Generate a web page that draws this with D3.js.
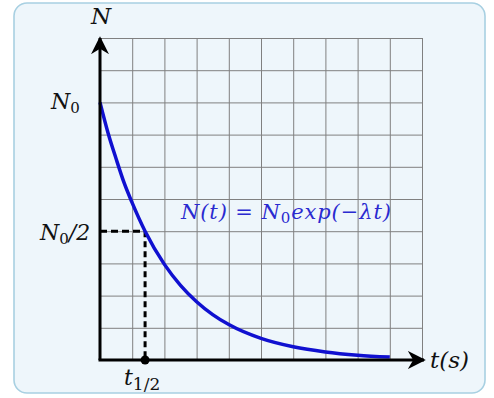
<!DOCTYPE html>
<html lang="en">
<head>
    <meta charset="UTF-8">
    <script src="https://d3js.org/d3.v7.min.js"></script>
    <title>Decroissance radioactive</title>
    <style>
      body{ margin:0; background:#fff; }
      svg{ display:block; }
      .grid line{ stroke:#808080; stroke-width:1px; }
      .grid path{ display:none; }
      .lbl{ font-family:"DejaVu Serif","Liberation Serif",serif; font-style:italic; fill:#111; }
    </style>
</head>
<body>
<svg id="myGraph" width="494" height="398"></svg>
<script>
// points (t in grid units, N in grid units)
var tValues = [0, 0.25, 0.5, 0.75, 1, 1.4, 2, 2.5, 3, 3.5, 4, 5, 6, 7, 8, 9];
var nValues = [8, 7.05, 6.25, 5.5, 4.88, 4.0, 2.97, 2.32, 1.81, 1.41, 1.10, 0.67, 0.41, 0.25, 0.15, 0.09];
var gridTicks = [0, 1, 2, 3, 4, 5, 6, 7, 8, 9, 10];
var n0 = 8, halfLife = 1.4;

var svg = d3.select("#myGraph");

// cadre arrondi
svg.append("rect")
  .attr("x", 14).attr("y", 3).attr("width", 471).attr("height", 390)
  .attr("rx", 13)
  .attr("fill", "#eef6fb").attr("stroke", "#a8d0e2").attr("stroke-width", 1.6);

var xScale = d3.scaleLinear().domain([0, 10]).range([100, 422]);
var yScale = d3.scaleLinear().domain([0, 10]).range([360, 38]);

// quadrillage
svg.append("g").attr("class", "grid")
  .attr("transform", "translate(0,360)")
  .call(d3.axisBottom(xScale).tickValues(gridTicks).tickSize(-322).tickFormat(""));
svg.append("g").attr("class", "grid")
  .attr("transform", "translate(100,0)")
  .call(d3.axisLeft(yScale).tickValues(gridTicks).tickSize(-322).tickFormat(""));

// fleches
var defs = svg.append("defs");
defs.append("marker")
  .attr("id", "arrow").attr("viewBox", "0 0 10 10")
  .attr("refX", 9).attr("refY", 5)
  .attr("markerWidth", 6).attr("markerHeight", 6)
  .attr("markerUnits", "strokeWidth")
  .attr("orient", "auto")
  .append("path").attr("d", "M0,0 L10,5 L0,10 L3,5 z").attr("fill", "#000");

// pointilles
svg.append("line")
  .attr("x1", xScale(0)).attr("y1", yScale(n0 / 2))
  .attr("x2", xScale(halfLife)).attr("y2", yScale(n0 / 2))
  .attr("stroke", "#000").attr("stroke-width", 3).attr("stroke-dasharray", "7,4");
svg.append("line")
  .attr("x1", xScale(halfLife)).attr("y1", yScale(n0 / 2))
  .attr("x2", xScale(halfLife)).attr("y2", yScale(0))
  .attr("stroke", "#000").attr("stroke-width", 3).attr("stroke-dasharray", "6,4");

// courbe
var pts = tValues.map(function(t, i){ return [t, nValues[i]]; });
var line = d3.line()
  .x(function(d){ return xScale(d[0]); })
  .y(function(d){ return yScale(d[1]); })
  .curve(d3.curveMonotoneX);
svg.append("path")
  .datum(pts)
  .attr("d", line)
  .attr("fill", "none").attr("stroke", "#1010d0").attr("stroke-width", 3.5);

// axes
svg.append("line")
  .attr("x1", xScale(0)).attr("y1", yScale(0))
  .attr("x2", xScale(0)).attr("y2", 38)
  .attr("stroke", "#000").attr("stroke-width", 3).attr("marker-end", "url(#arrow)");
svg.append("line")
  .attr("x1", xScale(0) - 1.5).attr("y1", yScale(0))
  .attr("x2", 424).attr("y2", yScale(0))
  .attr("stroke", "#000").attr("stroke-width", 3).attr("marker-end", "url(#arrow)");

svg.append("circle")
  .attr("cx", xScale(halfLife)).attr("cy", yScale(0)).attr("r", 4.5).attr("fill", "#000");

// textes
svg.append("text").attr("class", "lbl").attr("x", 91).attr("y", 24)
  .attr("font-size", 23).text("N");

var t0 = svg.append("text").attr("class", "lbl").attr("x", 51).attr("y", 109).attr("font-size", 22);
t0.append("tspan").text("N");
t0.append("tspan").attr("dy", 4).attr("font-size", 15).attr("font-style", "normal").text("0");

var t1 = svg.append("text").attr("class", "lbl").attr("x", 40).attr("y", 240).attr("font-size", 22);
t1.append("tspan").text("N");
t1.append("tspan").attr("dy", 4).attr("font-size", 15).attr("font-style", "normal").text("0");
t1.append("tspan").attr("dy", -4).text("/2");

var t2 = svg.append("text").attr("class", "lbl").attr("x", 124).attr("y", 385).attr("font-size", 22);
t2.append("tspan").text("t");
t2.append("tspan").attr("dy", 5).attr("font-size", 17).attr("font-style", "normal").text("1/2");

svg.append("text").attr("class", "lbl").attr("x", 430).attr("y", 368)
  .attr("font-size", 23).text("t(s)");

var eq = svg.append("text").attr("class", "lbl").attr("x", 181).attr("y", 219)
  .attr("font-size", 21).attr("letter-spacing", 0.9).style("fill", "#2a2ad0");
eq.append("tspan").text("N(t) = N");
eq.append("tspan").attr("dy", 4).attr("font-size", 15).attr("font-style", "normal").text("0");
eq.append("tspan").attr("dy", -4).text("exp(\u2212\u03bbt)");
</script>
</body>
</html>
